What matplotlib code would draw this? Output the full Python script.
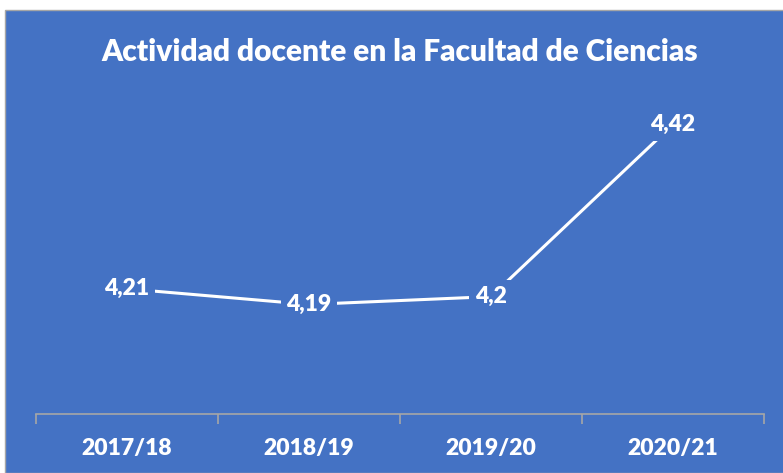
import matplotlib.pyplot as plt
from matplotlib.patches import Rectangle

# datos
cursos = ['2017/18', '2018/19', '2019/20', '2020/21']
valores = [4.21, 4.19, 4.2, 4.42]
etiquetas = ['4,21', '4,19', '4,2', '4,42']

azul = '#4472C4'
plt.rcParams['font.family'] = ['Lato', 'DejaVu Sans']

fig = plt.figure(figsize=(7.83, 4.73), dpi=100, facecolor='white')
# fondo azul del grafico
fig.patches.append(Rectangle((5 / 783, 0), 1, 1 - 10 / 473, transform=fig.transFigure,
                             facecolor=azul, edgecolor='#A6A6A6', linewidth=1, zorder=-5))

ax = fig.add_axes([36 / 783, 1 - 414 / 473, 728 / 783, 313 / 473])
ax.set_facecolor('none')
x = list(range(len(cursos)))
ax.plot(x, valores, color='white', linewidth=2.2, solid_capstyle='butt', zorder=2)

for xi, v, t in zip(x, valores, etiquetas):
    ax.text(xi, v, t, color='white', fontsize=16.5, fontweight='heavy', ha='center', va='center',
            bbox=dict(boxstyle='square,pad=0.25', facecolor=azul, edgecolor='none'), zorder=3)

ax.set_xlim(-0.5, 3.5)
ax.set_ylim(4.05, 4.45)
ax.set_yticks([])
ax.set_xticks(x)
ax.set_xticklabels(cursos, color='white', fontsize=16.5, fontweight='heavy')
ax.tick_params(axis='x', which='major', length=0, pad=17)
ax.set_xticks([-0.5, 0.5, 1.5, 2.5, 3.5], minor=True)
ax.tick_params(axis='x', which='minor', length=7, color='#A6A6A6', width=1.2)
for s in ['top', 'right', 'left']:
    ax.spines[s].set_visible(False)
ax.spines['bottom'].set_color('#A6A6A6')
ax.spines['bottom'].set_linewidth(1.2)

fig.text(400 / 783, 1 - 52 / 473, 'Actividad docente en la Facultad de Ciencias',
         color='white', fontsize=21.5, fontweight='heavy', ha='center', va='center')

plt.savefig('out.png', dpi=100, facecolor='white')
